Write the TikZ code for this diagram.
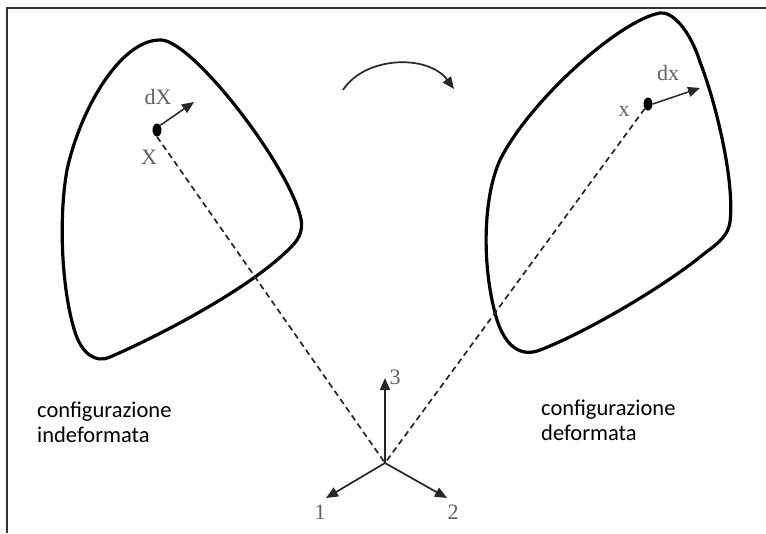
\documentclass[tikz,border=0pt]{standalone}
\usepackage{fontspec}
\setmainfont{Liberation Serif}
\newfontfamily\calfont{Carlito}
\usetikzlibrary{arrows.meta,shapes.geometric}
\begin{document}
\begin{tikzpicture}[x=1pt,y=-1pt,
  blob/.style={line width=3.2pt,line join=round},
  dashln/.style={dash pattern=on 6pt off 4pt,line width=1.7pt,draw=black!85},
  vec/.style={line width=1.7pt,draw=black!85,-{Triangle[length=12pt,width=10pt]}},
  lbl/.style={font=\fontsize{22}{24}\selectfont,text=black!62,inner sep=0pt},
  captext/.style={font=\calfont\fontsize{22.5}{25}\selectfont,align=left,inner sep=0pt,anchor=west},
  dot/.style={ellipse,fill=black,minimum width=9pt,minimum height=13pt,inner sep=0pt}]
\useasboundingbox (0,0) rectangle (766,533);
% frame
\draw[line width=2pt,black!80] (7,533) -- (7,8) -- (766,8);
% undeformed body
\draw[blob] (160,40) .. controls (190,38) and (285,160) .. (300,215)
  .. controls (304,228) and (300,238) .. (292,246)
  .. controls (250,290) and (150,340) .. (110,357)
  .. controls (95,364) and (82,352) .. (76,335)
  .. controls (62,295) and (58,220) .. (67,170)
  .. controls (80,110) and (120,40) .. cycle;
% deformed body
\draw[blob] (660,13) .. controls (672,11) and (690,30) .. (700,62)
  .. controls (715,100) and (735,180) .. (730,222)
  .. controls (728,235) and (720,242) .. (705,253)
  .. controls (660,290) and (580,335) .. (540,350)
  .. controls (520,358) and (505,345) .. (497,320)
  .. controls (482,270) and (482,200) .. (500,160)
  .. controls (530,100) and (620,20) .. cycle;
% points
\node[dot] (P) at (157,130) {};
\node[dot] (p) at (648,104) {};
\coordinate (dXe) at (194,102);
\coordinate (dxe) at (700,88);
\node[lbl] (lX) at (149,157) {X};
\node[lbl] (ldX) at (158,97) {dX};
\node[lbl] (lx) at (624,111) {x};
\node[lbl] (ldx) at (668,73) {dx};
% origin and axes
\coordinate (O) at (385,463);
\coordinate (e3) at (385,378);
\coordinate (e1) at (326,498);
\coordinate (e2) at (447,498);
\node[lbl] (l3) at (395,377) {3};
\node[lbl] (l1) at (320,512) {1};
\node[lbl] (l2) at (453,512) {2};
\draw[dashln] (P.south) -- (O);
\draw[dashln] (p.south west) -- (O);
\draw[vec] (O) -- (e3);
\draw[vec] (O) -- (e1);
\draw[vec] (O) -- (e2);
\draw[vec,line width=1.5pt] (P.north east) -- (dXe);
\draw[vec,line width=1.5pt] (p.east) -- (dxe);
% curved arrow
\coordinate (ca) at (343,90);
\coordinate (cb) at (454,89);
\draw[line width=1.7pt,black!85,-{Triangle[length=12pt,width=10pt]}] (ca) .. controls (365,56) and (428,54) .. (cb);
% captions
\node[captext] (c1) at (37,422) {configurazione\\indeformata};
\node[captext] (c2) at (541,420) {configurazione\\deformata};
\end{tikzpicture}
\end{document}
